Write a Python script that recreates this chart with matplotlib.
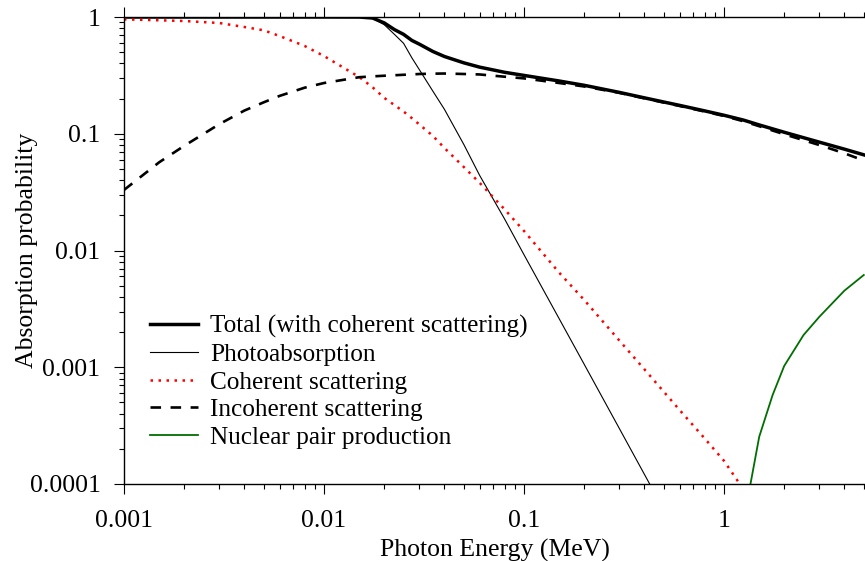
import matplotlib
matplotlib.use('Agg')
import matplotlib.pyplot as plt
from matplotlib.ticker import FixedLocator, FixedFormatter, NullFormatter, LogLocator

# photon energy grid (MeV)
energy = [0.001, 0.0015, 0.002, 0.003, 0.004, 0.005, 0.006, 0.008, 0.01,
          0.015, 0.0175, 0.02, 0.0225, 0.025, 0.0275, 0.03, 0.035, 0.04, 0.05, 0.06,
          0.08, 0.1, 0.15, 0.2, 0.3, 0.4, 0.5, 0.6, 0.8, 1.0, 1.25, 1.5, 2.0, 3.0, 4.0, 5.0]

total = [1.0, 1.0, 1.0, 1.0, 1.0, 1.0, 1.0, 1.0, 1.0,
         0.999, 0.98, 0.89, 0.78, 0.71, 0.63, 0.585, 0.507, 0.459, 0.405, 0.372,
         0.336, 0.316, 0.283, 0.26, 0.226, 0.203, 0.187, 0.175, 0.157, 0.144, 0.131, 0.119,
         0.103, 0.0847, 0.0738, 0.066]

photo = [1.0, 1.0, 1.0, 1.0, 1.0, 1.0, 1.0, 1.0, 1.0,
         0.998, 0.975, 0.86, 0.71, 0.595, 0.447, 0.353, 0.232, 0.162, 0.081, 0.044,
         0.0186, 0.0092, 0.0026, 0.00106, 2.98e-4, 1.21e-4, 6.0e-5, 3.5e-5, 1.5e-5, 8e-6, 4e-6,
         2.5e-6, 1.2e-6, 4e-7, 2e-7, 1e-7]

coherent = [0.955, 0.937, 0.924, 0.888, 0.821, 0.769, 0.687, 0.565, 0.463,
            0.306, 0.25, 0.203, 0.176, 0.155, 0.136, 0.12, 0.096, 0.0755, 0.0519, 0.038,
            0.0225, 0.0147, 0.00645, 0.00377, 0.00169, 9.6e-4, 6.17e-4, 4.3e-4, 2.46e-4, 1.58e-4,
            9.0e-5, 6.0e-5, 3.5e-5, 1.6e-5, 9e-6, 6e-6]

incoherent = [0.033, 0.057, 0.0788, 0.121, 0.158, 0.186, 0.211, 0.248, 0.272,
              0.305, 0.31, 0.314, 0.317, 0.32, 0.322, 0.325, 0.327, 0.328, 0.325, 0.322,
              0.308, 0.298, 0.272, 0.254, 0.224, 0.201, 0.185, 0.173, 0.155, 0.142, 0.128,
              0.116, 0.099, 0.08, 0.068, 0.059]

pair_energy = [1.25, 1.5, 1.75, 2.0, 2.5, 3.0, 4.0, 5.0]
pair = [4.7e-5, 2.54e-4, 5.78e-4, 1.026e-3, 1.89e-3, 2.71e-3, 4.53e-3, 6.17e-3]

xticks = [0.001, 0.01, 0.1, 1]
xtick_labels = ['0.001', '0.01', '0.1', '1']
yticks = [0.0001, 0.001, 0.01, 0.1, 1]
ytick_labels = ['0.0001', '0.001', '0.01', '0.1', '1']

plt.rcParams['font.family'] = ['Liberation Serif', 'DejaVu Serif']

fig = plt.figure(figsize=(8.65, 5.61), dpi=100)
ax = fig.add_axes([124/865, 1-484/561, 741/865, 467/561])

ax.plot(energy, total, color='black', lw=2.5, label='Total (with coherent scattering)')
ax.plot(energy, photo, color='black', lw=0.8, label='Photoabsorption')
ax.plot(energy, coherent, color='red', lw=1.8, linestyle=(0, (1, 2.2)), label='Coherent scattering')
ax.plot(energy, incoherent, color='black', lw=1.9, linestyle=(0, (4, 3.6)), label='Incoherent scattering')
ax.plot(pair_energy, pair, color='#006e00', lw=1.3, label='Nuclear pair production')

ax.set_xscale('log')
ax.set_yscale('log')
ax.set_xlim(0.001, 5.07)
ax.set_ylim(0.0001, 1)

ax.xaxis.set_major_locator(FixedLocator(xticks))
ax.xaxis.set_major_formatter(FixedFormatter(xtick_labels))
ax.yaxis.set_major_locator(FixedLocator(yticks))
ax.yaxis.set_major_formatter(FixedFormatter(ytick_labels))
ax.xaxis.set_minor_locator(LogLocator(base=10, subs=range(2, 10), numticks=20))
ax.yaxis.set_minor_locator(LogLocator(base=10, subs=range(2, 10), numticks=20))
ax.xaxis.set_minor_formatter(NullFormatter())
ax.yaxis.set_minor_formatter(NullFormatter())

ax.spines['right'].set_visible(False)
for s in ['left', 'bottom', 'top']:
    ax.spines[s].set_linewidth(1.0)
ax.tick_params(which='both', direction='out', top=True, right=False, labelsize=18.5, width=0.8)
ax.tick_params(which='major', length=7)
ax.tick_params(which='minor', length=3.5)
ax.tick_params(axis='y', which='major', pad=10)
ax.tick_params(axis='x', which='major', pad=12)

ax.set_xlabel('Photon Energy (MeV)', fontsize=18.5)
ax.set_ylabel('Absorption probability', fontsize=18.5)
ax.xaxis.set_label_coords(0.5, -0.117)
ax.yaxis.set_label_coords(-0.116, 0.5)

leg = ax.legend(loc='upper left', bbox_to_anchor=(0.0355, 0.362), frameon=False, fontsize=18.2,
                handlelength=1.9, handletextpad=0.47, labelspacing=0.2, borderpad=0,
                borderaxespad=0)

fig.savefig('out.png', dpi=100)
